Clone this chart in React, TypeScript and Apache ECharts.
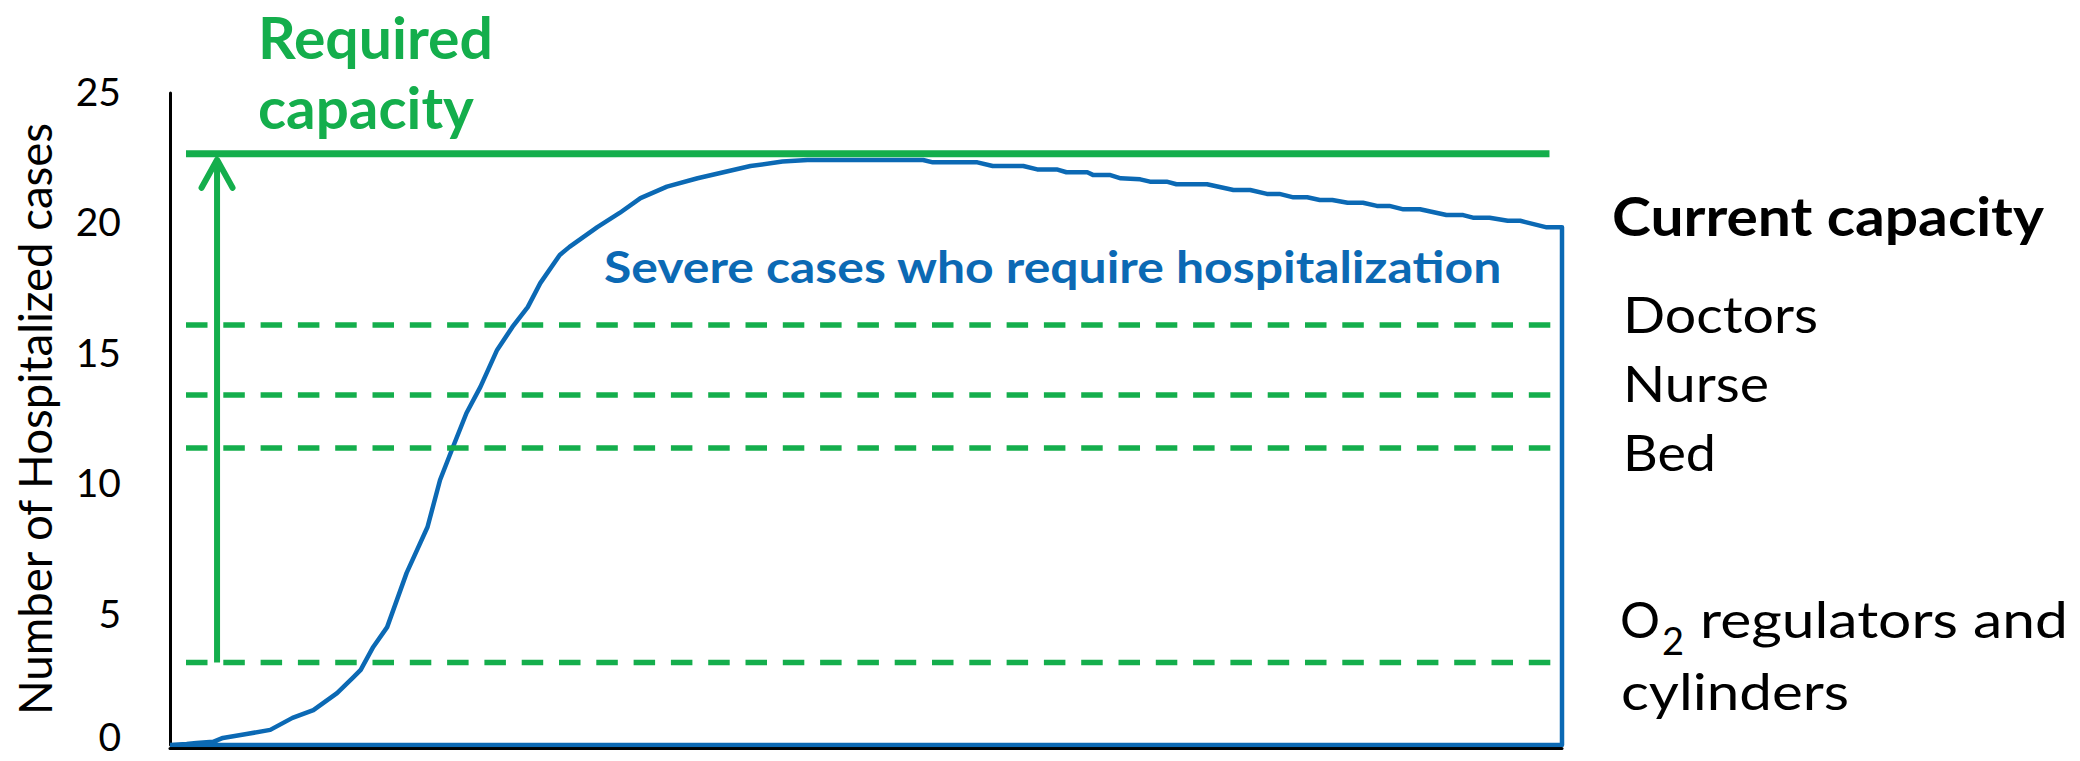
import React, { useEffect, useRef } from "react";
import * as echarts from "echarts";

// ---------- data ----------
const yTickValues = [0, 5, 10, 15, 20, 25];

// time (arbitrary units, 0..100 across the plot) and hospitalized cases
const caseTime = [
  0, 1.2, 1.9, 3.1, 3.8, 5.5, 7.2, 8.8, 10.3, 12.0, 13.2, 13.7, 14.6, 15.6, 17.0, 18.5, 19.4,
  20.3, 21.3, 22.3, 23.5, 24.6, 25.7, 26.6, 28.0, 28.7, 30.7, 32.3, 33.8, 35.7, 37.9, 41.7,
  44.0, 45.8, 54.1, 54.8, 58.0, 59.1, 61.3, 62.3, 63.7, 64.4, 65.9, 66.3, 67.5, 68.3, 69.7,
  70.4, 71.6, 72.3, 74.5, 76.4, 77.6, 78.8, 79.7, 80.7, 81.7, 82.6, 83.5, 84.6, 85.7, 86.7,
  87.6, 88.6, 89.8, 91.7, 92.9, 93.6, 94.8, 96.1, 97.0, 98.9, 100,
];
const caseCount = [
  0, 0.04, 0.08, 0.12, 0.27, 0.42, 0.58, 1.04, 1.34, 1.99, 2.61, 2.88, 3.76, 4.52, 6.6, 8.36,
  10.16, 11.39, 12.73, 13.73, 15.15, 16.03, 16.79, 17.71, 18.79, 19.1, 19.86, 20.4, 20.97,
  21.41, 21.73, 22.2, 22.37, 22.43, 22.43, 22.34, 22.34, 22.2, 22.2, 22.07, 22.07, 21.96,
  21.96, 21.86, 21.86, 21.73, 21.69, 21.6, 21.6, 21.5, 21.5, 21.28, 21.28, 21.13, 21.13, 21.0,
  21.0, 20.9, 20.9, 20.79, 20.79, 20.67, 20.67, 20.54, 20.54, 20.32, 20.32, 20.22, 20.22,
  20.1, 20.1, 19.85, 19.85,
];

const requiredCapacity = 22.67;
const capacityNames = ["Doctors", "Nurse", "Bed", "O2 regulators and cylinders"];
const capacityLevels = [16.1, 13.42, 11.39, 3.16];

const capacityLineStart = 1.15;
const requiredLineEnd = 99.1;
const capacityLineEnd = 102.0;
const arrowTime = 3.38;

// ---------- styles ----------
const GREEN = "#14AE4C";
const BLUE = "#0B69B4";
const FONT = "Lato";

function textWidth(text: string, font: string): number {
  const ctx = document.createElement("canvas").getContext("2d");
  if (!ctx) return text.length * 20;
  ctx.font = font;
  return ctx.measureText(text).width;
}

type Ann = {
  text: string;
  left: number;
  right?: number;
  baseline: number;
  size: number;
  weight: string;
  color: string;
};

function annText(a: Ann) {
  const font = `${a.weight} ${a.size}px ${FONT}`;
  const w = textWidth(a.text, font);
  const scaleX = a.right != null && w > 0 ? (a.right - a.left) / w : 1;
  return {
    type: "text",
    x: a.left,
    y: a.baseline - 0.387 * a.size,
    scaleX,
    silent: true,
    style: {
      text: a.text,
      font,
      fill: a.color,
      textAlign: "left",
      textVerticalAlign: "middle",
    },
  };
}

export default function App() {
  const ref = useRef<HTMLDivElement>(null);

  useEffect(() => {
    document.body.style.margin = "0";
    const el = ref.current!;
    const chart = echarts.init(el, null, { renderer: "svg" });

    const curve: number[][] = caseTime.map((t, i) => [t, caseCount[i]]);
    const lastT = caseTime[caseTime.length - 1];
    curve.push([lastT, 0], [caseTime[0], 0]);

    const titleText = "Number of Hospitalized cases";
    const titleSize = (40 * 594) / textWidth(titleText, `normal 40px ${FONT}`);

    const dashedSeries = capacityNames.map((name, i) => ({
      name,
      type: "line",
      data: [
        [capacityLineStart, capacityLevels[i]],
        [capacityLineEnd, capacityLevels[i]],
      ],
      symbol: "none",
      clip: false,
      silent: true,
      z: 4,
      lineStyle: { color: GREEN, width: 5.5, type: [21.5, 15.8], cap: "butt" },
    }));

    const tickFont = { fontFamily: FONT, fontSize: 39, color: "#000" };

    chart.setOption({
      animation: false,
      grid: { left: 170, right: 518, top: 93, bottom: 16, outerBoundsMode: "none" },
      xAxis: {
        type: "value",
        min: 0,
        max: 100,
        offset: 3,
        axisLine: { show: true, onZero: false, lineStyle: { color: "#000", width: 3 } },
        axisTick: { show: false },
        axisLabel: { show: false },
        splitLine: { show: false },
      },
      yAxis: {
        type: "value",
        min: yTickValues[0],
        max: yTickValues[yTickValues.length - 1],
        interval: yTickValues[1] - yTickValues[0],
        name: titleText,
        nameLocation: "middle",
        nameGap: 113,
        nameTextStyle: { fontFamily: FONT, fontSize: titleSize, color: "#000" },
        axisLine: { show: true, lineStyle: { color: "#000", width: 3 } },
        axisTick: { show: false },
        splitLine: { show: false },
        axisLabel: {
          ...tickFont,
          margin: 49,
          formatter: (v: number) => (v === 0 ? `{z|${v}}` : `{n|${v}}`),
          rich: {
            n: { ...tickFont, padding: [0, 0, 4, 0] },
            z: { ...tickFont, padding: [0, 0, 18, 0] },
          },
        },
      },
      series: [
        {
          name: "Severe cases who require hospitalization",
          type: "line",
          data: curve,
          symbol: "none",
          silent: true,
          z: 3,
          lineStyle: { color: BLUE, width: 4.5, join: "round" },
        },
        {
          name: "Required capacity",
          type: "line",
          data: [
            [capacityLineStart, requiredCapacity],
            [requiredLineEnd, requiredCapacity],
          ],
          symbol: "none",
          clip: false,
          silent: true,
          z: 4,
          lineStyle: { color: GREEN, width: 7, cap: "butt" },
        },
        ...dashedSeries,
      ],
    });

    const p0 = chart.convertToPixel({ gridIndex: 0 }, [arrowTime, capacityLevels[3]]) as number[];
    const p1 = chart.convertToPixel({ gridIndex: 0 }, [arrowTime, requiredCapacity]) as number[];
    const ax = p0[0];
    const tipY = p1[1] + 6;

    const anns: Ann[] = [
      { text: "Required", left: 258, right: 493, baseline: 59, size: 58, weight: "bold", color: GREEN },
      { text: "capacity", left: 258, right: 474, baseline: 129, size: 58, weight: "bold", color: GREEN },
      { text: "Severe cases who require hospitalization", left: 604, right: 1503, baseline: 283, size: 43, weight: "bold", color: BLUE },
      { text: "Current capacity", left: 1612, right: 2044, baseline: 236, size: 53, weight: "bold", color: "#000" },
      { text: capacityNames[0], left: 1623, right: 1818, baseline: 333, size: 50, weight: "normal", color: "#000" },
      { text: capacityNames[1], left: 1623, right: 1769, baseline: 402, size: 50, weight: "normal", color: "#000" },
      { text: capacityNames[2], left: 1623, right: 1716, baseline: 471, size: 50, weight: "normal", color: "#000" },
      { text: "O", left: 1620, baseline: 638, size: 50, weight: "normal", color: "#000" },
      { text: "2", left: 1662, baseline: 655, size: 38, weight: "normal", color: "#000" },
      { text: "regulators and", left: 1700, right: 2068, baseline: 638, size: 50, weight: "normal", color: "#000" },
      { text: "cylinders", left: 1621, right: 1849, baseline: 710, size: 50, weight: "normal", color: "#000" },
    ];

    chart.setOption({
      graphic: [
        {
          type: "line",
          silent: true,
          z: 10,
          shape: { x1: ax, y1: p0[1], x2: ax, y2: tipY },
          style: { stroke: GREEN, lineWidth: 6 },
        },
        {
          type: "polyline",
          silent: true,
          z: 10,
          shape: {
            points: [
              [ax - 15.5, tipY + 28],
              [ax, tipY],
              [ax + 15.5, tipY + 28],
            ],
          },
          style: { stroke: GREEN, fill: null, lineWidth: 6, lineCap: "round", lineJoin: "round" },
        },
        ...anns.map(annText),
      ],
    });

    return () => {
      chart.dispose();
    };
  }, []);

  return (
    <div
      ref={ref}
      style={{ position: "absolute", left: 0, top: 0, width: 2080, height: 761 }}
    />
  );
}
